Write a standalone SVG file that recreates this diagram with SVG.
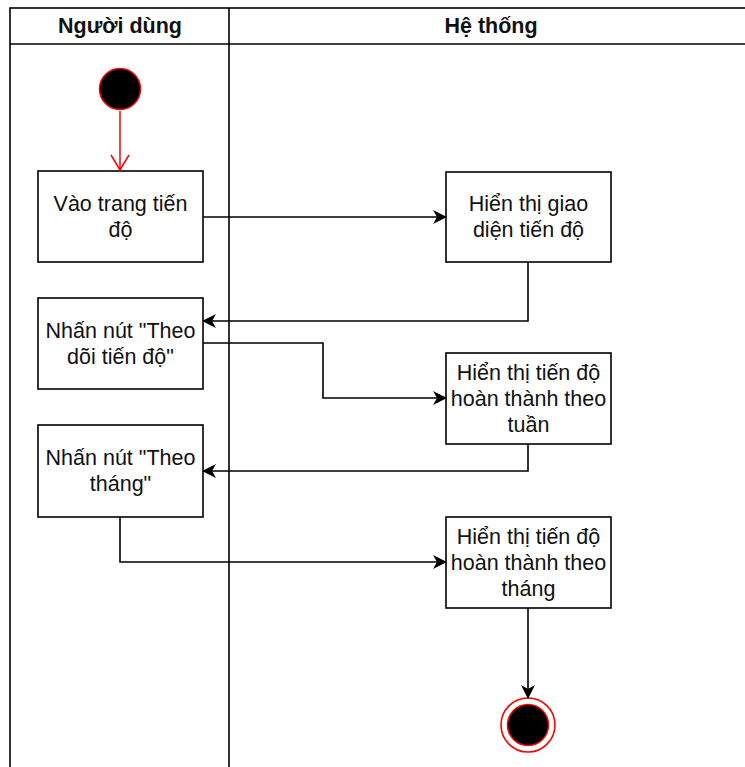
<svg xmlns="http://www.w3.org/2000/svg" width="745" height="767" viewBox="0 0 745 767">
<defs>
<style>
.lane{fill:none;stroke:#000;stroke-width:1.6}
.box{fill:#fff;stroke:#000;stroke-width:1.6}
.t{font-family:"Liberation Sans",Arial,sans-serif;font-size:21.5px;fill:#111;text-anchor:middle}
.h{font-family:"Liberation Sans",Arial,sans-serif;font-size:21.5px;font-weight:bold;fill:#111;text-anchor:middle}
.c{fill:none;stroke:#000;stroke-width:1.6}
</style>
<marker id="arr" markerUnits="userSpaceOnUse" markerWidth="16" markerHeight="16" refX="13" refY="7" orient="auto">
<path d="M0,0 L14,7 L0,14 L4,7 z" fill="#000"/>
</marker>
</defs>
<g id="pool">
<rect class="lane" x="10" y="8" width="760" height="780"/>
<line class="lane" x1="10" y1="44" x2="770" y2="44"/>
<line class="lane" x1="229" y1="8" x2="229" y2="788"/>
<text class="h" x="120" y="33">Người dùng</text>
<text class="h" x="491" y="33">Hệ thống</text>
</g>
<g id="start">
<circle cx="120" cy="89" r="20.5" fill="#000" stroke="#f00" stroke-width="1.5"/>
</g>
<g id="n1">
<rect class="box" x="38" y="171" width="165" height="91"/>
<text class="t" x="120.5" y="211">Vào trang tiến</text>
<text class="t" x="120.5" y="237">độ</text>
</g>
<g id="n2">
<rect class="box" x="446" y="172" width="165" height="90"/>
<text class="t" x="528.5" y="211">Hiển thị giao</text>
<text class="t" x="528.5" y="237">diện tiến độ</text>
</g>
<g id="n3">
<rect class="box" x="38" y="298" width="165" height="91"/>
<text class="t" x="120.5" y="338">Nhấn nút "Theo</text>
<text class="t" x="120.5" y="364">dõi tiến độ"</text>
</g>
<g id="n4">
<rect class="box" x="446" y="353" width="165" height="91"/>
<text class="t" x="528.5" y="380">Hiển thị tiến độ</text>
<text class="t" x="528.5" y="406">hoàn thành theo</text>
<text class="t" x="528.5" y="432">tuần</text>
</g>
<g id="n5">
<rect class="box" x="38" y="425" width="165" height="92"/>
<text class="t" x="120.5" y="465">Nhấn nút "Theo</text>
<text class="t" x="120.5" y="491">tháng"</text>
</g>
<g id="n6">
<rect class="box" x="446" y="517" width="165" height="91"/>
<text class="t" x="528.5" y="544">Hiển thị tiến độ</text>
<text class="t" x="528.5" y="570">hoàn thành theo</text>
<text class="t" x="528.5" y="596">tháng</text>
</g>
<g id="end">
<circle cx="528" cy="725" r="27" fill="#fff" stroke="#f00" stroke-width="1.6"/>
<circle cx="528" cy="725" r="20.5" fill="#000" stroke="#f00" stroke-width="1.5"/>
</g>
<g id="connectors">
<line x1="120" y1="111" x2="120" y2="170" stroke="#f00" stroke-width="1.5"/>
<polyline points="111,155 120,170 129,155" fill="none" stroke="#f00" stroke-width="1.5"/>
<polyline class="c" points="203,217 446,217" marker-end="url(#arr)"/>
<polyline class="c" points="528,262 528,321 203,321" marker-end="url(#arr)"/>
<polyline class="c" points="203,343 323,343 323,398 446,398" marker-end="url(#arr)"/>
<polyline class="c" points="528,444 528,471 203,471" marker-end="url(#arr)"/>
<polyline class="c" points="120,517 120,562 446,562" marker-end="url(#arr)"/>
<polyline class="c" points="528,608 528,698" marker-end="url(#arr)"/>
</g>
</svg>
